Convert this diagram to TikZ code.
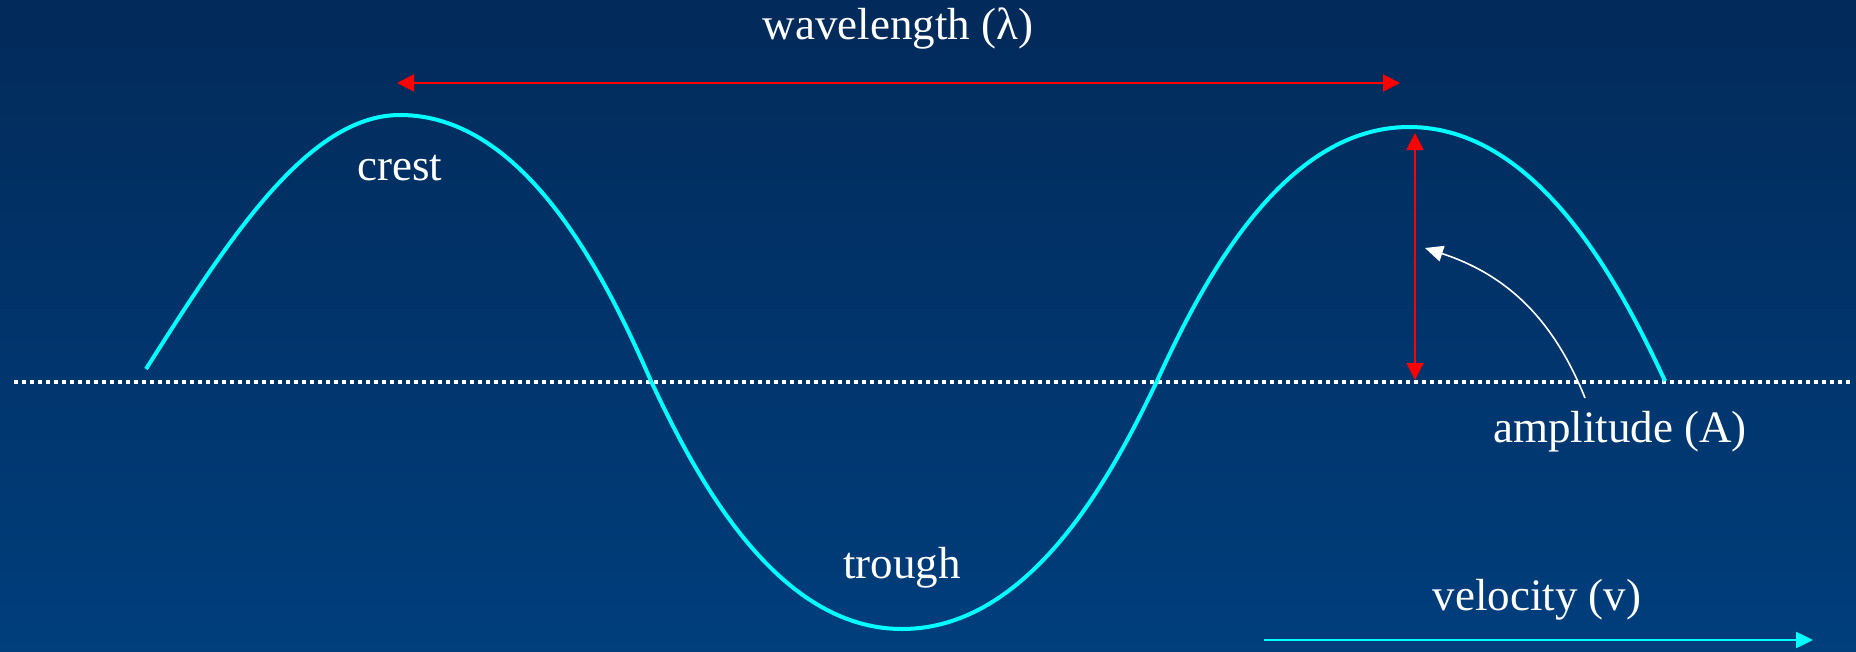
\documentclass[tikz,border=0pt]{standalone}
\usepackage{fontspec}
\setmainfont{Liberation Serif}
\usetikzlibrary{arrows.meta}
\definecolor{bgtop}{RGB}{2,42,90}
\definecolor{bgbot}{RGB}{0,62,124}
\definecolor{wavecyan}{RGB}{0,255,255}
\definecolor{arrred}{RGB}{255,0,0}
\begin{document}
\begin{tikzpicture}[x=1pt,y=-1pt,
  lbl/.style={text=white,inner sep=0pt,anchor=base,font=\fontsize{45}{54}\selectfont},
  wave/.style={draw=wavecyan,line width=4pt},
  redarrow/.style={draw=arrred,line width=2pt,{Triangle[length=17pt,width=17pt]}-{Triangle[length=17pt,width=17pt]}},
  axisline/.style={draw=white,line width=4pt,dash pattern=on 4pt off 4pt},
  callout/.style={draw=white,line width=1.6pt,-{Triangle[length=18pt,width=16pt]}},
  velarrow/.style={draw=wavecyan,line width=2.5pt,-{Triangle[length=17pt,width=16pt]}}]
\useasboundingbox (0,0) rectangle (1856,651);
\shade[top color=bgtop,bottom color=bgbot] (0,0) rectangle (1856,651);
% axis
\coordinate (axL) at (14,382);
\coordinate (axR) at (1850,382);
\draw[axisline] (axL) -- (axR);
% wave
\coordinate (w0) at (146,369);
\coordinate (c1) at (400,115);
\coordinate (z1) at (651,381);
\coordinate (t1) at (902,629);
\coordinate (z2) at (1157,381);
\coordinate (c2) at (1409,127);
\coordinate (z3) at (1665,381);
\draw[wave] (w0) sin (c1)
  .. controls (525.5,115) and (605.8,277.3) .. (z1)
  .. controls (696.2,477.7) and (776.5,629) .. (t1)
  .. controls (1029.5,629) and (1111.1,477.7) .. (z2)
  .. controls (1202.4,281.9) and (1283,127) .. (c2)
  .. controls (1537,127) and (1618.9,281.9) .. (z3);
% wavelength arrow
\coordinate (wlL) at (397,83);
\coordinate (wlR) at (1400,83);
\draw[redarrow] (wlL) -- (wlR);
% amplitude arrow
\coordinate (amT) at (1415,133);
\coordinate (amB) at (1415,380);
\draw[redarrow] (amT) -- (amB);
% labels
\node[lbl] (wavelength) at (898,39) {wavelength (λ)};
\node[lbl] (crest) at (400,180) {crest};
\node[lbl] (trough) at (902,578) {trough};
\node[lbl] (amplitude) at (1620,442) {amplitude (A)};
\node[lbl] (velocity) at (1537,610) {velocity (v)};
% callout arrow
\coordinate (coS) at (1585,398);
\coordinate (coE) at (1425,248);
\draw[callout] (coS) to[bend right=25] (coE);
% velocity arrow
\coordinate (vL) at (1264,640);
\coordinate (vR) at (1813,640);
\draw[velarrow] (vL) -- (vR);
\end{tikzpicture}
\end{document}
